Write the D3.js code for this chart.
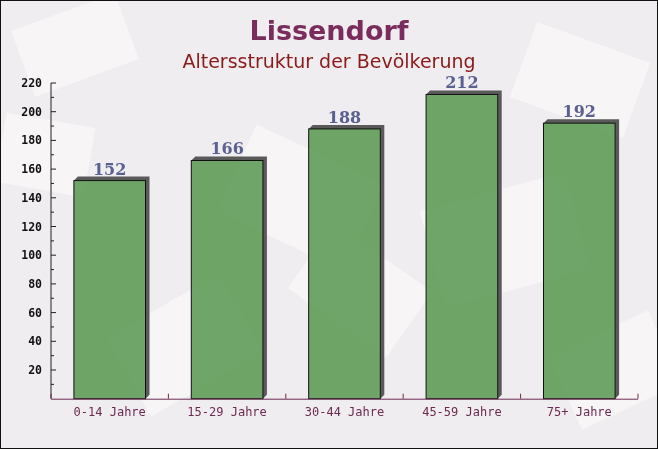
<!DOCTYPE html>
<html><head><meta charset="utf-8">
<script src="https://cdn.jsdelivr.net/npm/d3@7"></script>
<style>html,body{margin:0;padding:0;background:#fff}svg{display:block}</style>
</head><body>
<script>
const categories = ["0-14 Jahre","15-29 Jahre","30-44 Jahre","45-59 Jahre","75+ Jahre"];
const values = [152,166,188,212,192];
const yTicks = [20,40,60,80,100,120,140,160,180,200,220];
const titleText = "Lissendorf";
const subtitleText = "Altersstruktur der Bevölkerung";

const W = 658, H = 449;
const plotL = 51, plotR = 638, plotT = 83, plotB = 398.7;

const svg = d3.select("body").append("svg").attr("width", W).attr("height", H);

// background
svg.append("rect").attr("x",0).attr("y",0).attr("width",W).attr("height",H).attr("fill","#f0edf0");
const deco = svg.append("g").attr("fill","#f9f7f8").attr("opacity",0.9);
[[20,10,110,70,-20],[230,150,140,95,25],[430,190,150,100,-15],[120,300,130,90,-30],[520,40,120,80,20],[300,250,120,80,35],[560,330,110,80,-25],[0,120,90,70,10]].forEach(d=>{
  deco.append("rect").attr("x",d[0]).attr("y",d[1]).attr("width",d[2]).attr("height",d[3])
    .attr("transform",`rotate(${d[4]},${d[0]+d[2]/2},${d[1]+d[3]/2})`);
});

const x = d3.scaleBand().domain(categories).range([plotL, plotR]).paddingInner(0.39).paddingOuter(0.195);
const y = d3.scaleLinear().domain([0,220]).range([plotB, plotT]);

// title
svg.append("text").attr("x",329).attr("y",40).attr("text-anchor","middle")
  .attr("font-family","DejaVu Sans, Verdana, sans-serif").attr("font-weight","bold").attr("font-size",27)
  .attr("fill","#7a2d5c").text(titleText);
svg.append("text").attr("x",329).attr("y",68).attr("text-anchor","middle")
  .attr("font-family","DejaVu Sans, Verdana, sans-serif").attr("font-size",19)
  .attr("fill","#8b1a1a").text(subtitleText);

// bars
const dd = 4;
const g = svg.append("g");
categories.forEach((c,i)=>{
  const x0 = x(c), x1 = x(c)+x.bandwidth(), yt = y(values[i]), yb = y(0);
  g.append("path")
    .attr("d", `M${x0},${yt} L${x0+dd},${yt-dd} L${x1+dd},${yt-dd} L${x1+dd},${yb-dd} L${x1},${yb} L${x1},${yt} Z`)
    .attr("fill","#5a5a5a");
  g.append("rect").attr("x",x0).attr("y",yt).attr("width",x.bandwidth()).attr("height",yb-yt)
    .attr("fill","#5f9c58").attr("fill-opacity",0.9).attr("stroke","#111").attr("stroke-width",1);
  g.append("text").attr("x",x0+x.bandwidth()/2).attr("y",yt-6).attr("text-anchor","middle")
    .attr("font-family","DejaVu Serif, serif").attr("font-weight","bold").attr("font-size",16)
    .attr("fill","#5a6090").text(values[i]);
});

// y axis
const ya = svg.append("g").attr("transform",`translate(${plotL},0)`);
ya.append("line").attr("x1",0).attr("x2",0).attr("y1",y(220)).attr("y2",plotB).attr("stroke","#222");
d3.range(10,221,10).forEach(v=>{
  const major = v%20===0;
  ya.append("line").attr("x1",0).attr("x2",major?5:3).attr("y1",y(v)).attr("y2",y(v)).attr("stroke","#222");
});
yTicks.forEach(v=>{
  ya.append("text").attr("x",-9).attr("y",y(v)).attr("dy","0.35em").attr("text-anchor","end")
    .attr("font-family","DejaVu Sans Mono, monospace").attr("font-weight","bold").attr("font-size",11.5)
    .attr("fill","#111").text(v);
});

// x axis
const xa = svg.append("g");
xa.append("line").attr("x1",plotL).attr("x2",plotR).attr("y1",plotB+0.5).attr("y2",plotB+0.5).attr("stroke","#6b2a50");
const step = x.step();
d3.range(0,categories.length+1).forEach(i=>{
  const xx = plotL + i*step;
  xa.append("line").attr("x1",xx).attr("x2",xx).attr("y1",plotB).attr("y2",plotB-5).attr("stroke","#6b2a50");
});
categories.forEach(c=>{
  xa.append("text").attr("x",x(c)+x.bandwidth()/2).attr("y",416).attr("text-anchor","middle")
    .attr("font-family","DejaVu Sans Mono, monospace").attr("font-size",12)
    .attr("fill","#6b2a50").text(c);
});

// border
svg.append("rect").attr("x",0.5).attr("y",0.5).attr("width",W-1).attr("height",H-1)
  .attr("fill","none").attr("stroke","#111");
</script>
</body></html>
